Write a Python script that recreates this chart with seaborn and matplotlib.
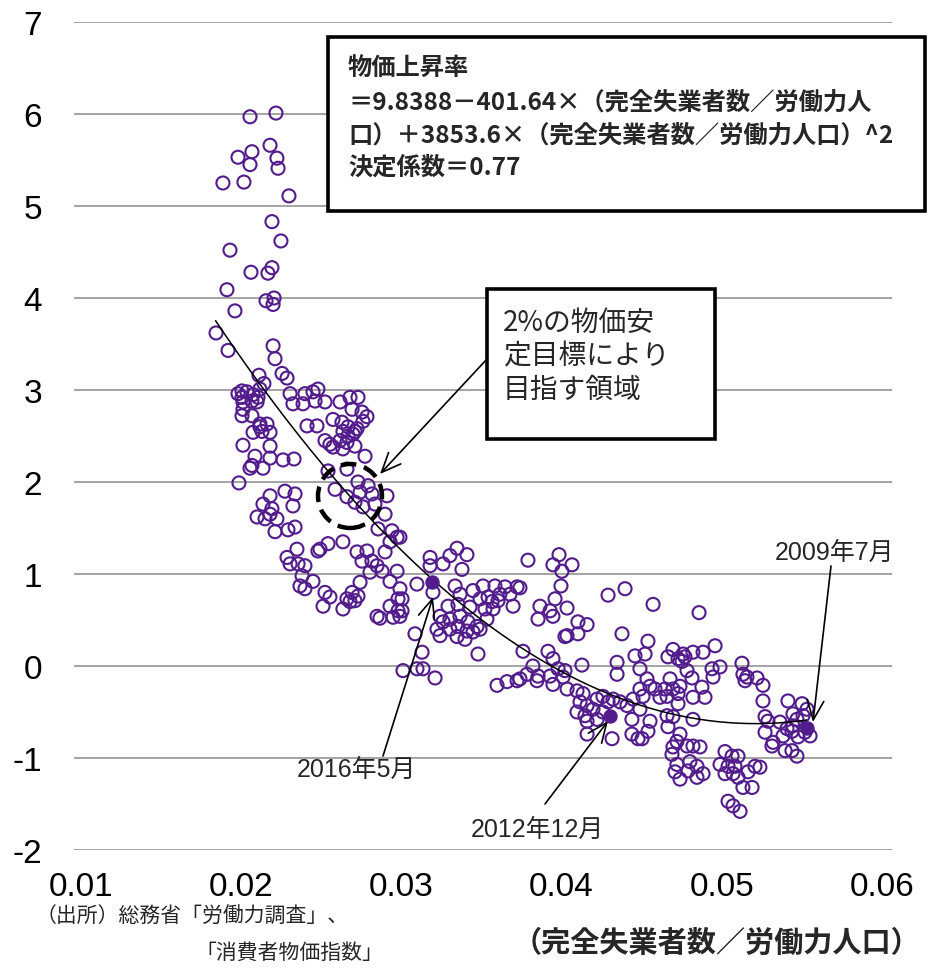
import numpy as np
import pandas as pd
import matplotlib
matplotlib.use("Agg")
import matplotlib.pyplot as plt
import matplotlib.patches as mpatches
import seaborn as sns

# ---------------- data ----------------
unemp = [
    0.02055, 0.02217, 0.02180, 0.02067, 0.01980, 0.02223, 0.02055, 0.02230, 0.01886, 0.02017,
    0.02298, 0.02192, 0.02248, 0.01930, 0.02061, 0.02167, 0.02192, 0.01911, 0.02155, 0.02205,
    0.02199, 0.01961, 0.01843, 0.01918, 0.02199, 0.02211, 0.02111, 0.02142, 0.02255, 0.02286,
    0.02005, 0.02036, 0.02074, 0.02105, 0.02005, 0.02067, 0.02011, 0.02117, 0.01980, 0.02099,
    0.02011, 0.02005, 0.02067, 0.02117, 0.02161, 0.02074, 0.02130, 0.02180, 0.02117, 0.02011,
    0.02180, 0.02086, 0.02180, 0.02261, 0.02330, 0.02067, 0.02055, 0.02136, 0.01986, 0.02305,
    0.02323, 0.02180, 0.02273, 0.02336, 0.02136, 0.02323, 0.02192, 0.02180, 0.02223, 0.02099,
    0.02149, 0.02211, 0.02292, 0.02336, 0.02286, 0.02348, 0.02305, 0.02355, 0.02411, 0.02473,
    0.02398, 0.02448, 0.02479, 0.02461, 0.02523, 0.02386, 0.02679, 0.02729, 0.02617, 0.02692,
    0.02754, 0.02573, 0.02629, 0.02667, 0.02710, 0.02760, 0.02785, 0.02635, 0.02667, 0.02698,
    0.02723, 0.02523, 0.02554, 0.02573, 0.02635, 0.02710, 0.02773, 0.02617, 0.02660, 0.02542,
    0.02660, 0.02586, 0.02729, 0.02792, 0.02742, 0.02816, 0.02660, 0.02710, 0.02760, 0.02910,
    0.02898, 0.02835, 0.02854, 0.02941, 0.02973, 0.02929, 0.02898, 0.02635, 0.02492, 0.02542,
    0.02479, 0.02723, 0.02785, 0.02754, 0.02816, 0.02848, 0.02804, 0.02879, 0.02973, 0.02398,
    0.02380, 0.02448, 0.02398, 0.02367, 0.02523, 0.02554, 0.02511, 0.02742, 0.02692, 0.02729,
    0.02660, 0.02635, 0.02710, 0.02679, 0.02929, 0.02979, 0.02929, 0.02979, 0.02948, 0.02848,
    0.02866, 0.02991, 0.03179, 0.03179, 0.03260, 0.03303, 0.03347, 0.03409, 0.03378, 0.03197,
    0.03097, 0.02991, 0.03004, 0.03004, 0.02991, 0.03335, 0.03366, 0.03447, 0.03509, 0.03584,
    0.03647, 0.03722, 0.03678, 0.03615, 0.03541, 0.03491, 0.03566, 0.03603, 0.03697, 0.03428,
    0.03353, 0.03291, 0.03522, 0.03572, 0.03241, 0.03303, 0.03366, 0.03416, 0.03472, 0.03353,
    0.03303, 0.03409, 0.03447, 0.03222, 0.03241, 0.03347, 0.03397, 0.03491, 0.03534, 0.03260,
    0.03085, 0.03129, 0.03478, 0.03010, 0.03097, 0.03135, 0.03210, 0.03597, 0.03659, 0.03722,
    0.03790, 0.03984, 0.03946, 0.04002, 0.04065, 0.03740, 0.03996, 0.03959, 0.03865, 0.03928,
    0.03946, 0.04034, 0.03853, 0.04290, 0.04396, 0.04102, 0.04159, 0.04034, 0.04021, 0.04102,
    0.04377, 0.04458, 0.04346, 0.03759, 0.03915, 0.03946, 0.03821, 0.03784, 0.03853, 0.03740,
    0.03928, 0.03978, 0.04021, 0.04127, 0.03946, 0.03846, 0.04009, 0.04034, 0.04346, 0.04096,
    0.04134, 0.04115, 0.04159, 0.04096, 0.04146, 0.04221, 0.04258, 0.04290, 0.04321, 0.04365,
    0.04196, 0.04258, 0.04221, 0.04159, 0.04408, 0.04446, 0.04439, 0.04159, 0.04315, 0.04439,
    0.04477, 0.04571, 0.04858, 0.04539, 0.04521, 0.04664, 0.04695, 0.04758, 0.04820, 0.04883,
    0.04958, 0.04727, 0.04770, 0.04752, 0.05126, 0.05132, 0.05157, 0.05145, 0.05220, 0.05257,
    0.04489, 0.04533, 0.04552, 0.04489, 0.04508, 0.04583, 0.04614, 0.04645, 0.04677, 0.04695,
    0.04727, 0.04783, 0.04814, 0.04739, 0.04876, 0.04895, 0.04939, 0.04989, 0.04945, 0.04820,
    0.04727, 0.04658, 0.04489, 0.04552, 0.04539, 0.04502, 0.04658, 0.04695, 0.04820, 0.04664,
    0.04739, 0.04720, 0.04695, 0.04689, 0.04783, 0.04820, 0.04864, 0.04720, 0.04801, 0.04845,
    0.04708, 0.04789, 0.04739, 0.04845, 0.04883, 0.05020, 0.05064, 0.05101, 0.04989, 0.05039,
    0.05082, 0.05020, 0.05070, 0.05101, 0.05132, 0.05189, 0.05207, 0.05238, 0.05164, 0.05039,
    0.05070, 0.05114, 0.05257, 0.05270, 0.05288, 0.05270, 0.05320, 0.05313, 0.05363, 0.05413,
    0.05444, 0.05501, 0.05469, 0.05507, 0.05532, 0.05382, 0.05438, 0.05476, 0.05519, 0.05551,
    0.05395, 0.05438, 0.05469, 0.05407, 0.05444,
]
inflation = [
    5.97, 6.01, 5.66, 5.59, 5.53, 5.52, 5.45, 5.41, 5.25, 5.26,
    5.11, 4.83, 4.62, 4.52, 4.28, 4.27, 4.33, 4.09, 3.97, 4.00,
    3.93, 3.86, 3.62, 3.43, 3.48, 3.34, 3.16, 3.07, 3.18, 3.13,
    2.99, 2.98, 2.95, 2.92, 2.92, 2.88, 2.87, 3.01, 2.96, 2.87,
    2.79, 2.72, 2.72, 2.63, 2.63, 2.54, 2.55, 2.54, 2.60, 2.40,
    2.39, 2.28, 2.26, 2.24, 2.25, 2.18, 2.15, 2.15, 1.99, 2.96,
    2.85, 1.85, 1.90, 1.87, 1.76, 1.74, 1.71, 1.65, 1.60, 1.62,
    1.60, 1.46, 1.48, 1.51, 1.18, 1.27, 1.11, 1.11, 2.61, 2.61,
    2.96, 2.98, 3.01, 2.88, 2.87, 2.85, 2.92, 2.92, 2.87, 2.79,
    2.76, 2.68, 2.65, 2.60, 2.55, 2.66, 2.71, 2.55, 2.50, 2.52,
    2.58, 2.45, 2.41, 2.38, 2.36, 2.39, 2.28, 2.45, 2.43, 2.12,
    2.14, 1.92, 2.00, 1.96, 1.89, 1.87, 1.84, 1.78, 1.73, 1.85,
    1.65, 1.76, 1.49, 1.47, 1.40, 1.35, 1.24, 1.35, 1.27, 1.33,
    1.25, 1.24, 1.25, 1.14, 1.14, 1.09, 1.02, 1.03, 1.03, 1.09,
    0.98, 0.92, 0.84, 0.87, 0.80, 0.75, 0.65, 0.91, 0.80, 0.76,
    0.73, 0.62, 0.71, 0.70, 0.92, 0.73, 0.65, 0.60, 0.53, 0.54,
    0.52, 1.40, 1.18, 1.09, 1.11, 1.20, 1.28, 1.21, 1.05, 0.80,
    0.89, 0.84, 0.73, 0.60, 0.54, 0.87, 0.78, 0.82, 0.87, 0.87,
    0.86, 0.86, 0.78, 0.78, 0.75, 0.73, 0.70, 0.71, 0.65, 0.64,
    0.67, 0.65, 0.62, 0.62, 0.54, 0.51, 0.54, 0.48, 0.43, 0.43,
    0.40, 0.38, 0.37, 0.40, 0.33, 0.32, 0.29, 0.40, 0.51, 0.48,
    0.35, 0.15, 0.13, -0.05, -0.03, -0.03, -0.13, -0.21, -0.17, -0.16,
    1.15, 1.21, 1.10, 1.03, 1.10, 0.85, 0.87, 0.73, 0.65, 0.60,
    0.54, 0.63, 0.51, 0.77, 0.84, 0.48, 0.45, 0.33, 0.32, 0.35,
    0.35, 0.11, 0.04, 0.16, 0.16, 0.08, 0.00, -0.09, -0.11, -0.14,
    -0.11, -0.03, -0.05, 0.01, -0.20, -0.16, -0.12, -0.25, -0.09, -0.27,
    -0.30, -0.39, -0.43, -0.50, -0.54, -0.36, -0.33, -0.39, -0.36, -0.39,
    -0.47, -0.50, -0.58, -0.60, -0.43, -0.36, -0.58, -0.74, -0.79, -0.74,
    -0.79, 0.67, 0.58, 0.27, 0.13, 0.10, 0.18, 0.13, 0.15, 0.15,
    0.22, 0.08, 0.10, 0.05, 0.03, -0.09, -0.12, -0.16, -0.13, -0.21,
    -0.03, -0.14, -0.22, -0.25, -0.33, -0.25, -0.34, -0.25, -0.14, -0.25,
    -0.30, -0.05, -0.13, -0.22, -0.23, -0.34, -0.03, -0.01, -0.12, -0.34,
    -0.41, -0.33, -0.47, -0.60, -0.71, -0.79, -0.54, -0.55, -0.58, -0.66,
    -0.74, -0.82, -0.88, -0.96, -0.87, -0.87, -0.88, -1.07, -1.04, -1.09,
    -1.15, -1.14, -1.23, -1.21, -1.17, -0.93, -0.98, -0.98, -1.07, -1.09,
    -1.09, -1.17, -1.17, -1.21, -1.32, -1.32, -1.09, -1.10, -1.15, -1.47,
    -1.52, -1.58, -0.38, -0.55, -0.60, -0.72, -0.83, -0.87, -0.61, -0.38,
    -0.52, -0.41, -0.58, -0.54, -0.47, -0.76, -0.71, -0.77, -0.72, -0.76,
    -0.92, -0.92, -0.98, -0.68, -0.65,
]

# highlighted months
hl_labels = ["2016年5月", "2012年12月", "2009年7月"]
hl_unemp = [0.03191, 0.04302, 0.05532]
hl_infl = [0.91, -0.54, -0.67]

# quadratic fit stated in the chart
fit_coef = [9.8388, -401.64, 3853.6]
fit_range = [0.0184, 0.0553]

x_ticks = [0.01, 0.02, 0.03, 0.04, 0.05, 0.06]
x_ticklabels = ["0.01", "0.02", "0.03", "0.04", "0.05", "0.06"]
y_ticks = [-2, -1, 0, 1, 2, 3, 4, 5, 6, 7]
y_ticklabels = ["-2", "-1", "0", "1", "2", "3", "4", "5", "6", "7"]

eq_lines = ["物価上昇率",
            "＝9.8388－401.64×（完全失業者数／労働力人",
            "口）＋3853.6×（完全失業者数／労働力人口）^2",
            "決定係数＝0.77"]
target_lines = ["2%の物価安", "定目標により", "目指す領域"]
x_label = "（完全失業者数／労働力人口）"
source_lines = ["（出所）総務省「労働力調査」、", "「消費者物価指数」"]

# ---------------- plotting ----------------
sns.set_theme(style="white")
CJK = ["Noto Sans CJK JP", "DejaVu Sans"]
LAT = ["Liberation Sans", "Noto Sans CJK JP", "DejaVu Sans"]
plt.rcParams["font.family"] = CJK
plt.rcParams["axes.unicode_minus"] = False

W, H = 933, 970
fig = plt.figure(figsize=(W / 100, H / 100), dpi=100)

def F(px, py):
    return (px / W, 1 - py / H)

ax_l, ax_r, ax_t, ax_b = 74, 892, 23, 851
ax = fig.add_axes([ax_l / W, 1 - ax_b / H, (ax_r - ax_l) / W, (ax_b - ax_t) / H])

purple = "#521C8C"
df = pd.DataFrame({"u": unemp, "p": inflation})
sns.scatterplot(data=df, x="u", y="p", ax=ax, marker="o", s=88,
                facecolors="none", edgecolors=purple, linewidths=1.5,
                legend=False, zorder=3)

xs = np.linspace(fit_range[0], fit_range[1], 300)
ys = fit_coef[0] + fit_coef[1] * xs + fit_coef[2] * xs ** 2
sns.lineplot(x=xs, y=ys, ax=ax, color="black", linewidth=1.1, zorder=4,
             estimator=None, sort=False)

ax.scatter(hl_unemp, hl_infl, s=88, color=purple, zorder=5)

# x-range: 0.01 at pixel 81, 0.06 at pixel 882
px_per = (882 - 81) / 0.05
ax.set_xlim(0.01 - (81 - ax_l) / px_per, 0.06 + (ax_r - 882) / px_per)
ax.set_ylim(-2, 7)
ax.set_xticks(x_ticks)
ax.set_xticklabels(x_ticklabels)
ax.set_yticks(y_ticks)
ax.set_yticklabels(y_ticklabels)
ax.set_xlabel("")
ax.set_ylabel("")
for s in ax.spines.values():
    s.set_visible(False)
ax.yaxis.grid(True, color="#8C8C8C", linewidth=1.1)
ax.xaxis.grid(False)
ax.set_axisbelow(True)
ax.tick_params(axis="both", length=0)
ax.tick_params(axis="y", pad=23)
ax.tick_params(axis="x", pad=15)
for lab in ax.get_xticklabels() + ax.get_yticklabels():
    lab.set_fontfamily(["Liberation Sans", "DejaVu Sans"])
    lab.set_fontsize(24)
    lab.set_color("black")

# equation box
x0, y0 = F(328, 212)
x1, y1 = F(925, 38)
fig.patches.append(mpatches.Rectangle((x0, y0), x1 - x0, y1 - y0, transform=fig.transFigure,
                                      fill=True, facecolor="white", edgecolor="black",
                                      linewidth=2.6, zorder=10))
for line, py in zip(eq_lines, [68, 103, 136, 168]):
    fig.text(*F(348, py), line, fontsize=17.5, fontweight="bold", va="center", ha="left",
             family=CJK, zorder=11)

# target box
x0, y0 = F(487, 440)
x1, y1 = F(715, 290)
fig.patches.append(mpatches.Rectangle((x0, y0), x1 - x0, y1 - y0, transform=fig.transFigure,
                                      fill=True, facecolor="white", edgecolor="black",
                                      linewidth=2.6, zorder=10))
for line, py in zip(target_lines, [323, 356, 390]):
    fig.text(*F(503, py), line, fontsize=20, va="center", ha="left", family=CJK, zorder=11)

arrow_kw = dict(arrowstyle="->,head_length=0.7,head_width=0.3", color="black",
                lw=1.2, mutation_scale=20, shrinkA=0, shrinkB=0)
ax.annotate("", xy=F(380, 475), xycoords="figure fraction",
            xytext=F(487, 360), textcoords="figure fraction", arrowprops=arrow_kw)

# dashed circle (target zone)
cx, cy = F(350, 497)
fig.patches.append(mpatches.Ellipse((cx, cy), 64 / W, 64 / H, transform=fig.transFigure,
                                    fill=False, edgecolor="black", linewidth=3.2,
                                    linestyle=(0, (3.5, 1.8)), zorder=6))

# highlighted month labels
label_pos = [(357, 770), (537, 830), (835, 553)]
arrow_start = [(383, 757), (545, 805), (831, 567)]
arrow_tip = [(433, 598), (608, 722), (813, 723)]
for lab, tp, st, tip in zip(hl_labels, label_pos, arrow_start, arrow_tip):
    fig.text(*F(*tp), lab, fontsize=18, va="center", ha="center", family=LAT)
    ax.annotate("", xy=F(*tip), xycoords="figure fraction",
                xytext=F(*st), textcoords="figure fraction", arrowprops=arrow_kw)

# x-axis title and source
fig.text(*F(717, 943), x_label, fontsize=21, fontweight="bold", va="center", ha="center",
         family=CJK)
fig.text(*F(36, 917), source_lines[0], fontsize=15, va="center", ha="left", family=CJK)
fig.text(*F(195, 953), source_lines[1], fontsize=15, va="center", ha="left", family=CJK)

fig.savefig("out.png", dpi=100)
